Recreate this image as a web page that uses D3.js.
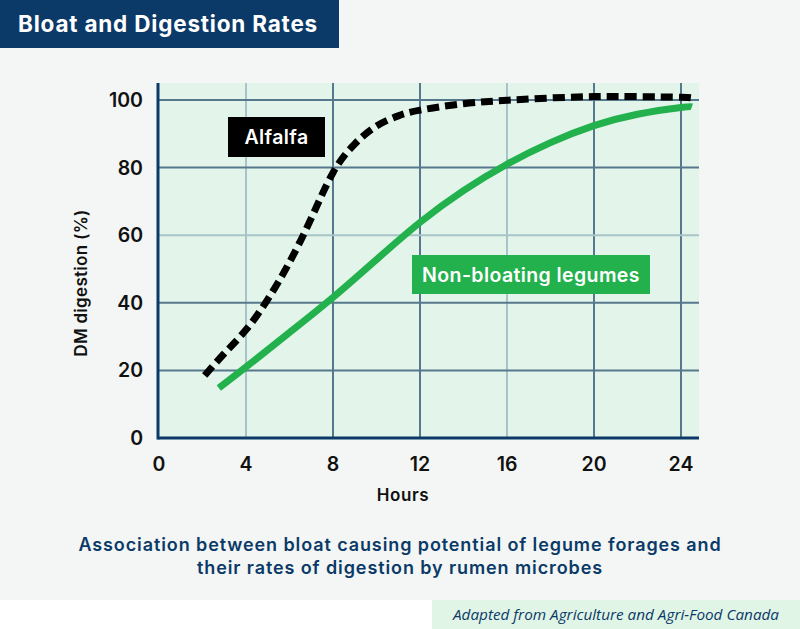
<!DOCTYPE html>
<html>
<head>
<meta charset="utf-8">
<script src="https://cdn.jsdelivr.net/npm/d3@7"></script>
<style>
  body { margin: 0; background: #fff; }
  svg { display: block; font-family: Inter, "Noto Sans", sans-serif; }
</style>
</head>
<body>
<svg id="chart" width="800" height="629"></svg>
<script>
// values
const alfalfaHours = [2.1, 3, 4, 5, 6, 7, 8, 9, 10, 11, 12, 14, 16, 18, 20, 22, 24, 24.5];
const alfalfaDigestion = [18.5, 25, 32, 41, 52, 65, 78.5, 87, 92.3, 95.3, 97, 98.9, 99.9, 100.6, 101, 101, 100.8, 100.6];
const legumeHours = [2.75, 4, 6, 8, 10, 12, 14, 16, 18, 20, 22, 24, 24.5];
const legumeDigestion = [14.8, 21, 31.2, 41.6, 52.8, 63.8, 73.2, 81, 87.4, 92.4, 95.8, 97.8, 98];
const xTicks = [0, 4, 8, 12, 16, 20, 24];
const yTicks = [0, 20, 40, 60, 80, 100];
const lightX = [4, 16];
const lightY = [60];

const navy = '#0b3a68';
const green = '#22b14c';

const svg = d3.select('#chart');

let x = d3.scaleLinear().domain([0, 24]).range([159, 681]);
let y = d3.scaleLinear().domain([0, 100]).range([438, 100]);
const plotLeft = 158, plotRight = 699, plotTop = 83, plotBottom = 438;

// page background
svg.append('rect').attr('width', 800).attr('height', 600).attr('fill', '#f3f6f4');

// title bar
svg.append('rect').attr('width', 339).attr('height', 48).attr('fill', navy);
svg.append('text').attr('x', 18).attr('y', 32)
  .attr('fill', '#fff').attr('font-size', 22.5).attr('font-weight', 700)
  .attr('letter-spacing', 0.8)
  .text('Bloat and Digestion Rates');

// plot area
svg.append('rect')
  .attr('x', plotLeft).attr('y', plotTop)
  .attr('width', plotRight - plotLeft).attr('height', plotBottom - plotTop)
  .attr('fill', '#e3f5ea');

// grid
svg.append('g').selectAll('line')
  .data(xTicks.filter(d => d > 0))
  .join('line')
  .attr('x1', d => x(d)).attr('x2', d => x(d))
  .attr('y1', plotTop).attr('y2', plotBottom)
  .attr('stroke', d => lightX.includes(d) ? '#a9c4c8' : '#56788c')
  .attr('stroke-width', 2);
svg.append('g').selectAll('line')
  .data(yTicks.filter(d => d > 0))
  .join('line')
  .attr('x1', plotLeft).attr('x2', plotRight)
  .attr('y1', d => y(d)).attr('y2', d => y(d))
  .attr('stroke', d => lightY.includes(d) ? '#a9c4c8' : '#56788c')
  .attr('stroke-width', 2);

// axes
svg.append('line').attr('x1', plotLeft).attr('x2', plotLeft)
  .attr('y1', plotTop).attr('y2', plotBottom + 1.5)
  .attr('stroke', navy).attr('stroke-width', 3);
svg.append('line').attr('x1', plotLeft).attr('x2', plotRight)
  .attr('y1', plotBottom).attr('y2', plotBottom)
  .attr('stroke', navy).attr('stroke-width', 3);

svg.append('g').selectAll('text')
  .data(yTicks)
  .join('text')
  .attr('x', 143).attr('y', d => y(d) + 7)
  .attr('text-anchor', 'end')
  .attr('font-size', 19.5).attr('font-weight', 600).attr('fill', '#111')
  .text(d => d);
svg.append('g').selectAll('text')
  .data(xTicks)
  .join('text')
  .attr('x', d => x(d)).attr('y', 471)
  .attr('text-anchor', 'middle')
  .attr('font-size', 19.5).attr('font-weight', 600).attr('fill', '#111')
  .text(d => d);

svg.append('text').attr('x', 403).attr('y', 501)
  .attr('text-anchor', 'middle').attr('font-size', 17).attr('font-weight', 600).attr('fill', '#111')
  .attr('letter-spacing', 0.6)
  .text('Hours');
svg.append('text')
  .attr('transform', 'translate(87,283) rotate(-90)')
  .attr('text-anchor', 'middle').attr('font-size', 17).attr('font-weight', 600).attr('fill', '#111')
  .attr('letter-spacing', 0.3)
  .text('DM digestion (%)');

// lines
let line = d3.line()
  .x(d => x(d[0]))
  .y(d => y(d[1]))
  .curve(d3.curveNatural);

svg.append('path')
  .attr('d', line(d3.zip(legumeHours, legumeDigestion)))
  .attr('fill', 'none').attr('stroke', green).attr('stroke-width', 7);

svg.append('path')
  .attr('d', line(d3.zip(alfalfaHours, alfalfaDigestion)))
  .attr('fill', 'none').attr('stroke', '#000').attr('stroke-width', 7)
  .attr('stroke-dasharray', '12,6');

// series labels
svg.append('rect').attr('x', 228).attr('y', 117).attr('width', 97).attr('height', 40).attr('fill', '#000');
svg.append('text').attr('x', 276.5).attr('y', 144)
  .attr('text-anchor', 'middle').attr('fill', '#fff').attr('font-size', 19.5).attr('font-weight', 600)
  .attr('letter-spacing', 0.4)
  .text('Alfalfa');
svg.append('rect').attr('x', 412).attr('y', 255).attr('width', 238).attr('height', 39).attr('fill', green);
svg.append('text').attr('x', 531).attr('y', 282)
  .attr('text-anchor', 'middle').attr('fill', '#fff').attr('font-size', 19.5).attr('font-weight', 600)
  .attr('letter-spacing', 0.4)
  .text('Non-bloating legumes');

// caption
const caption = svg.append('text').attr('text-anchor', 'middle')
  .attr('fill', navy).attr('font-size', 18).attr('font-weight', 600)
  .attr('letter-spacing', 0.9);
caption.append('tspan').attr('x', 400).attr('y', 551)
  .text('Association between bloat causing potential of legume forages and');
caption.append('tspan').attr('x', 400).attr('y', 574)
  .text('their rates of digestion by rumen microbes');

// source note
svg.append('rect').attr('x', 432).attr('y', 600).attr('width', 368).attr('height', 29).attr('fill', '#e0f5e6');
svg.append('text').attr('x', 616).attr('y', 620)
  .attr('text-anchor', 'middle').attr('fill', navy)
  .attr('font-family', '"Open Sans", sans-serif').attr('font-style', 'italic').attr('font-size', 15.3)
  .text('Adapted from Agriculture and Agri-Food Canada');
</script>
</body>
</html>
